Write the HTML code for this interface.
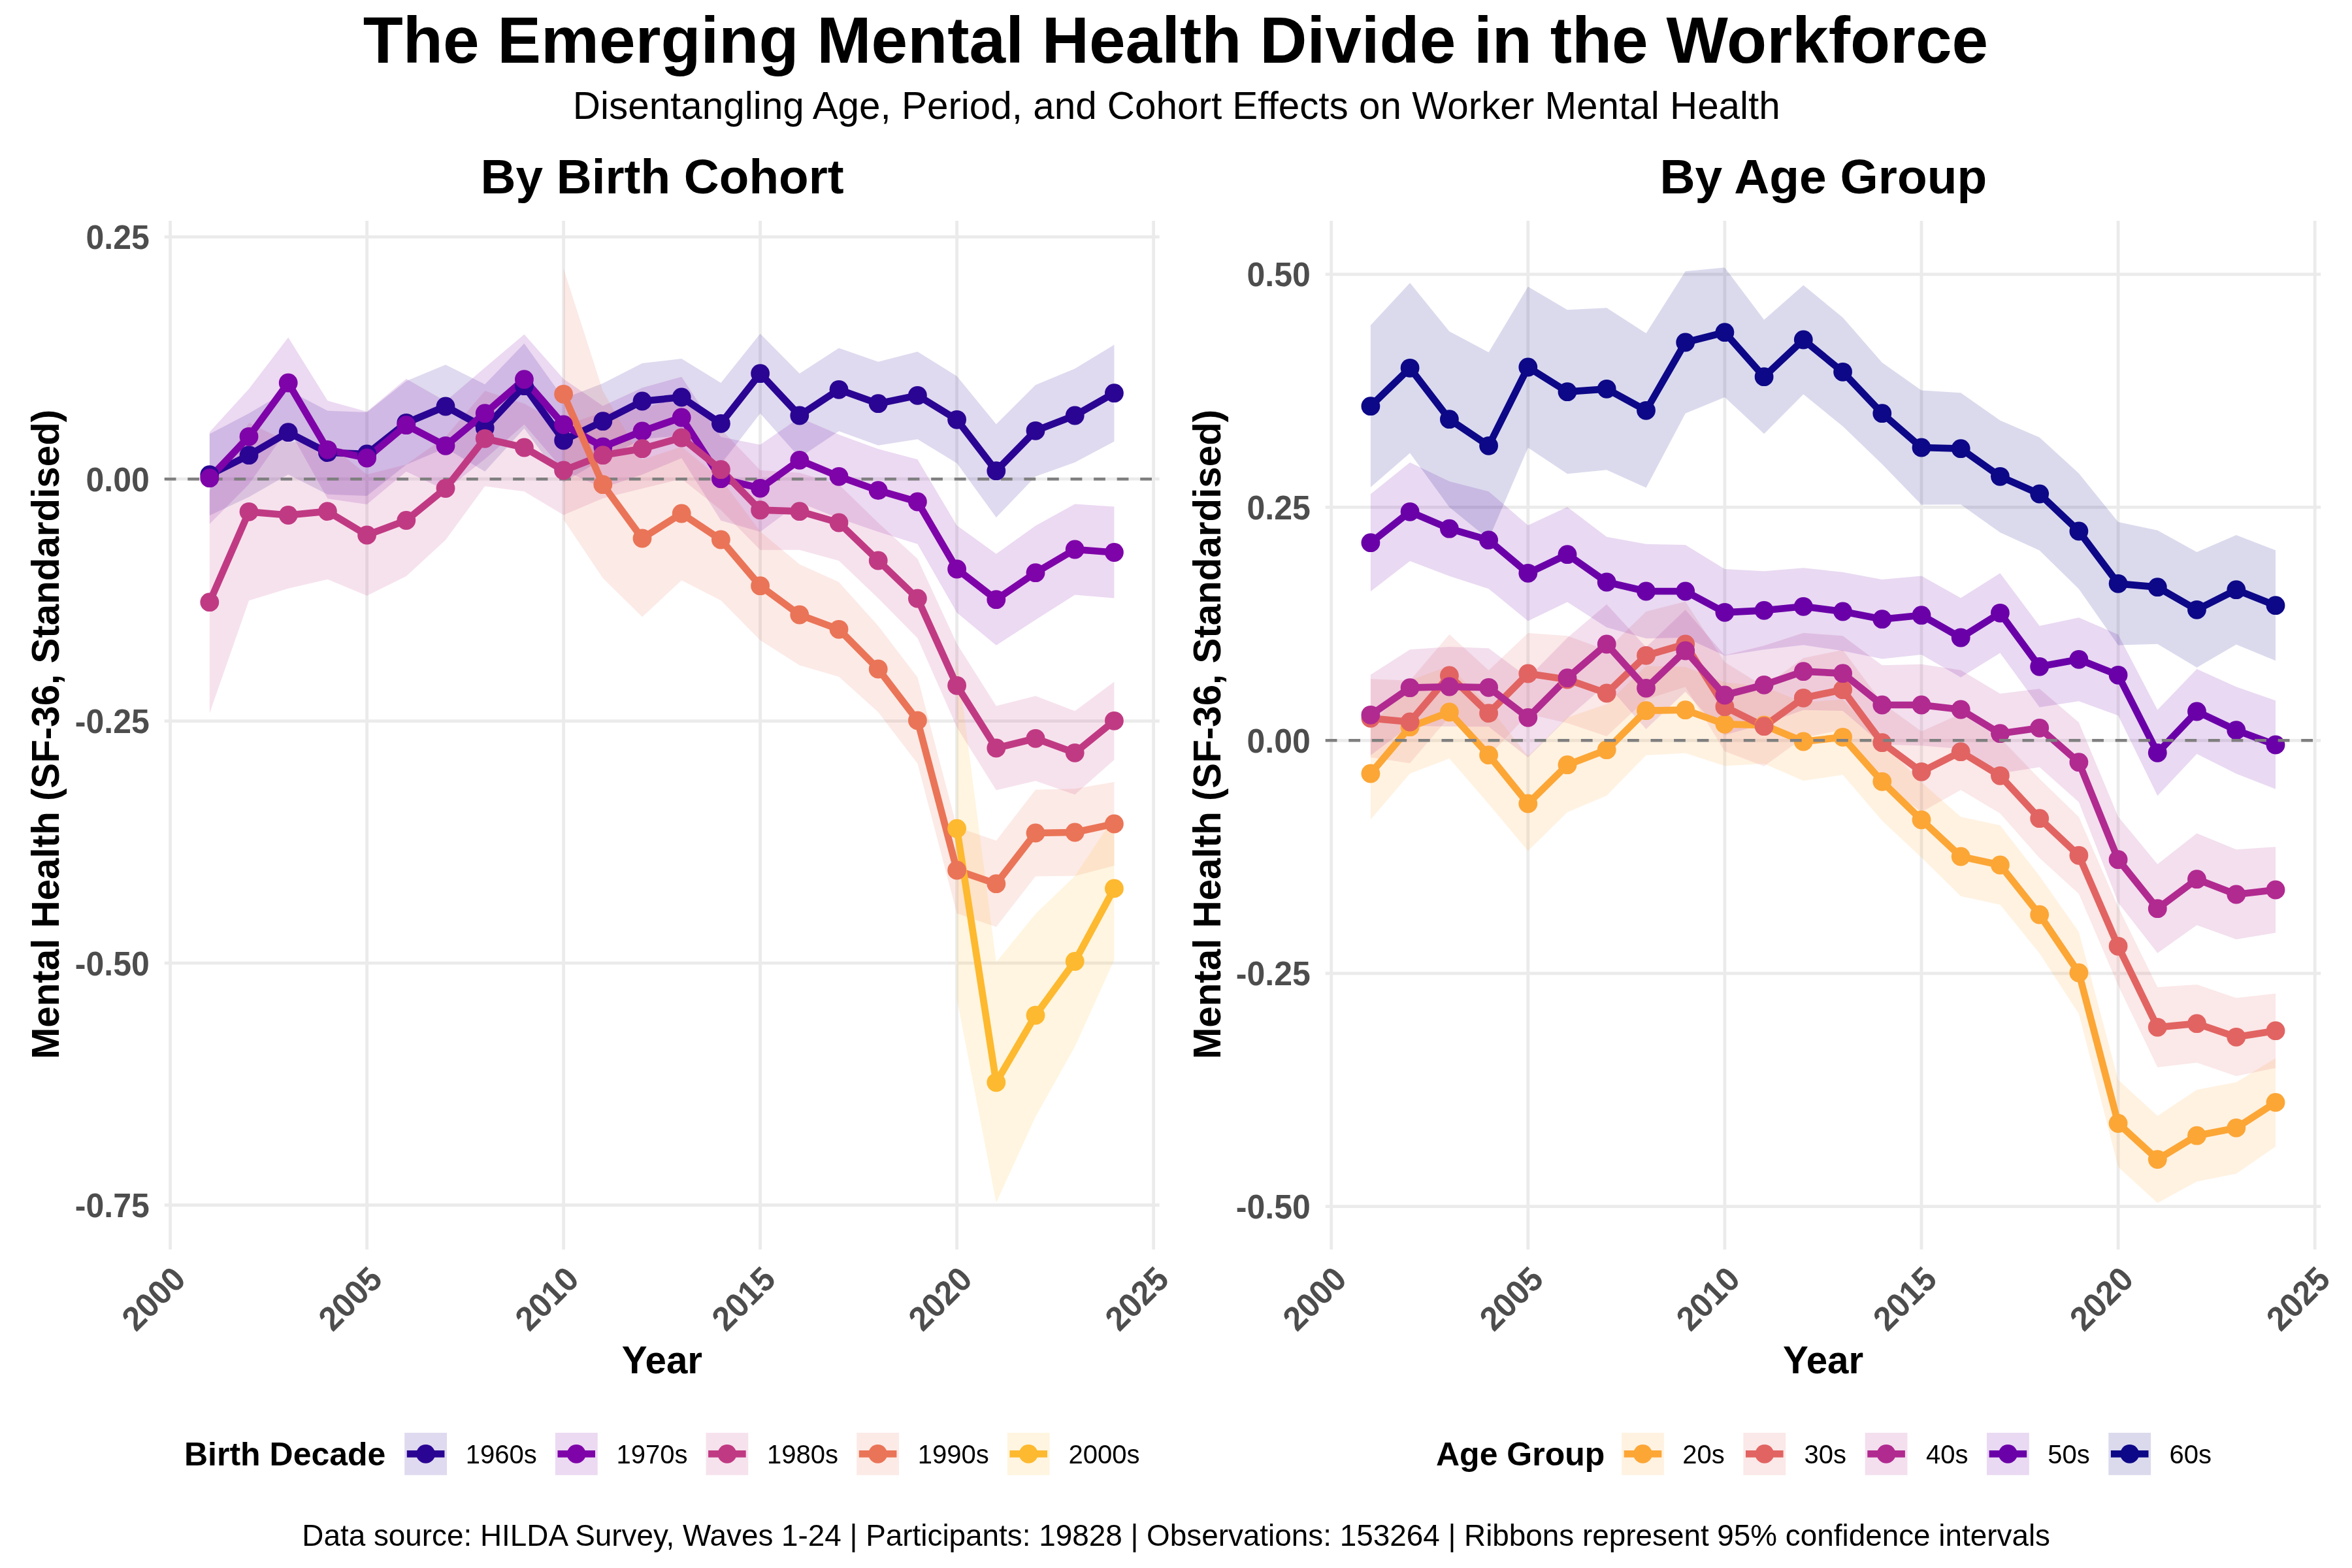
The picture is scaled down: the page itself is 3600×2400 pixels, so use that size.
<!DOCTYPE html>
<html lang="en"><head><meta charset="utf-8"><title>The Emerging Mental Health Divide in the Workforce</title>
<style>html,body{margin:0;padding:0;background:#fff}body{width:3600px;height:2400px;overflow:hidden}svg{display:block;will-change:transform}text{font-family:"Liberation Sans", sans-serif}</style></head><body>
<svg width="3600" height="2400" viewBox="0 0 3600 2400">
<rect width="3600" height="2400" fill="#FFFFFF"/>
<text x="1799.5" y="96" text-anchor="middle" font-size="100" font-weight="bold">The Emerging Mental Health Divide in the Workforce</text>
<text x="1800.8" y="182" text-anchor="middle" font-size="58.4">Disentangling Age, Period, and Cohort Effects on Worker Mental Health</text>
<text x="1013.6" y="295.6" text-anchor="middle" font-size="74.7" font-weight="bold">By Birth Cohort</text>
<text x="2790.8" y="295.6" text-anchor="middle" font-size="74.9" font-weight="bold">By Age Group</text>
<line x1="251.7" x2="1774.7" y1="362.7" y2="362.7" stroke="#EBEBEB" stroke-width="4.8"/>
<line x1="251.7" x2="1774.7" y1="733.2" y2="733.2" stroke="#EBEBEB" stroke-width="4.8"/>
<line x1="251.7" x2="1774.7" y1="1103.7" y2="1103.7" stroke="#EBEBEB" stroke-width="4.8"/>
<line x1="251.7" x2="1774.7" y1="1474.1" y2="1474.1" stroke="#EBEBEB" stroke-width="4.8"/>
<line x1="251.7" x2="1774.7" y1="1844.5" y2="1844.5" stroke="#EBEBEB" stroke-width="4.8"/>
<line x1="260.6" x2="260.6" y1="338" y2="1912.6" stroke="#EBEBEB" stroke-width="4.8"/>
<line x1="561.6" x2="561.6" y1="338" y2="1912.6" stroke="#EBEBEB" stroke-width="4.8"/>
<line x1="862.6" x2="862.6" y1="338" y2="1912.6" stroke="#EBEBEB" stroke-width="4.8"/>
<line x1="1163.6" x2="1163.6" y1="338" y2="1912.6" stroke="#EBEBEB" stroke-width="4.8"/>
<line x1="1464.6" x2="1464.6" y1="338" y2="1912.6" stroke="#EBEBEB" stroke-width="4.8"/>
<line x1="1765.6" x2="1765.6" y1="338" y2="1912.6" stroke="#EBEBEB" stroke-width="4.8"/>
<polygon points="320.8,664.3 381,632.7 441.2,597.2 501.4,628.7 561.6,631 621.8,583.3 682,558.3 742.2,588.3 802.4,525.7 862.6,610 922.8,586.7 983,556 1043.2,549 1103.4,586 1163.6,510.7 1223.8,571.7 1284,532.7 1344.2,553.7 1404.4,538.3 1464.6,575.7 1524.8,649.3 1585,589.3 1645.2,564.3 1705.4,527.7 1705.4,675.7 1645.2,707.7 1585,729.3 1524.8,792.1 1464.6,708.9 1404.4,672.3 1344.2,681.7 1284,659.9 1223.8,700.3 1163.6,632.7 1103.4,710.6 1043.2,667 983,672 922.8,702.7 862.6,738 802.4,655.7 742.2,721.7 682,685.7 621.8,711.3 561.6,759 501.4,756.7 441.2,726.2 381,760.7 320.8,789.1" fill="#2A0593" fill-opacity="0.15"/>
<polygon points="320.8,661.3 381,595.3 441.2,516.5 501.4,613.3 561.6,630 621.8,579.7 682,614.3 742.2,562.7 802.4,511.7 862.6,580 922.8,621.2 983,593.5 1043.2,576.7 1103.4,668.7 1163.6,680.7 1223.8,639.3 1284,665.3 1344.2,687.3 1404.4,703.3 1464.6,804.3 1524.8,847.7 1585,804.7 1645.2,771.5 1705.4,775.5 1705.4,915.5 1645.2,910.5 1585,948.7 1524.8,987.7 1464.6,937.7 1404.4,832.7 1344.2,814.1 1284,793.3 1223.8,769.3 1163.6,813.9 1103.4,796.7 1043.2,701.3 983,726.5 922.8,746.8 862.6,720 802.4,649.7 742.2,702.7 682,750.3 621.8,721.7 561.6,772 501.4,763.3 441.2,655.5 381,741.3 320.8,802.1" fill="#7E03A8" fill-opacity="0.15"/>
<polygon points="320.8,751.7 381,647.3 441.2,676.2 501.4,678.7 561.6,726.3 621.8,710.9 682,668.5 742.2,598.3 802.4,617.7 862.6,651.7 922.8,630.7 983,625.7 1043.2,607 1103.4,656.7 1163.6,719.7 1223.8,723.7 1284,741.7 1344.2,800.3 1404.4,855.3 1464.6,985.3 1524.8,1080.4 1585,1065.3 1645.2,1088.3 1705.4,1043.6 1705.4,1163 1645.2,1216.3 1585,1195.3 1524.8,1209.6 1464.6,1113.3 1404.4,976.7 1344.2,915.7 1284,858.3 1223.8,841.7 1163.6,841.7 1103.4,780.7 1043.2,733 983,747.7 922.8,762.7 862.6,788.3 802.4,752.3 742.2,744.3 682,826.5 621.8,882.1 561.6,911.7 501.4,886.7 441.2,900.8 381,919.3 320.8,1091.7" fill="#C03A83" fill-opacity="0.15"/>
<polygon points="862.6,411.3 922.8,598.4 983,703.7 1043.2,683.7 1103.4,733 1163.6,813.4 1223.8,863.7 1284,890.9 1344.2,958 1404.4,1036.8 1464.6,1266 1524.8,1286.7 1585,1208.7 1645.2,1207.3 1705.4,1197 1705.4,1325 1645.2,1340.7 1585,1341.3 1524.8,1418.7 1464.6,1398 1404.4,1168.8 1344.2,1090 1284,1035.7 1223.8,1018.3 1163.6,980 1103.4,919 1043.2,888.3 983,944.3 922.8,885 862.6,795.3" fill="#EA7457" fill-opacity="0.15"/>
<polygon points="1464.6,1008.2 1524.8,1472.8 1585,1398.7 1645.2,1341 1705.4,1250.3 1705.4,1469.5 1645.2,1602 1585,1709.3 1524.8,1840.8 1464.6,1528.2" fill="#FDB92F" fill-opacity="0.15"/>
<line x1="251.7" x2="1774.7" y1="733.2" y2="733.2" stroke="#7F7F7F" stroke-width="4.45" stroke-dasharray="17.78 17.78"/>
<polyline points="320.8,726.7 381,696.7 441.2,661.7 501.4,692.7 561.6,695 621.8,647.3 682,622 742.2,655 802.4,590.7 862.6,674 922.8,644.7 983,614 1043.2,608 1103.4,648.3 1163.6,571.7 1223.8,636 1284,596.3 1344.2,617.7 1404.4,605.3 1464.6,642.3 1524.8,720.7 1585,659.3 1645.2,636 1705.4,601.7" fill="none" stroke="#2A0593" stroke-width="10.7" stroke-linejoin="round" stroke-linecap="butt"/>
<polyline points="320.8,731.7 381,668.3 441.2,586 501.4,688.3 561.6,701 621.8,650.7 682,682.3 742.2,632.7 802.4,580.7 862.6,650 922.8,684 983,660 1043.2,639 1103.4,732.7 1163.6,747.3 1223.8,704.3 1284,729.3 1344.2,750.7 1404.4,768 1464.6,871 1524.8,917.7 1585,876.7 1645.2,841 1705.4,845.5" fill="none" stroke="#7E03A8" stroke-width="10.7" stroke-linejoin="round" stroke-linecap="butt"/>
<polyline points="320.8,921.7 381,783.3 441.2,788.5 501.4,782.7 561.6,819 621.8,796.5 682,747.5 742.2,671.3 802.4,685 862.6,720 922.8,696.7 983,686.7 1043.2,670 1103.4,718.7 1163.6,780.7 1223.8,782.7 1284,800 1344.2,858 1404.4,916 1464.6,1049.3 1524.8,1145 1585,1130.3 1645.2,1152.3 1705.4,1103.3" fill="none" stroke="#C03A83" stroke-width="10.7" stroke-linejoin="round" stroke-linecap="butt"/>
<polyline points="862.6,603.3 922.8,741.7 983,824 1043.2,786 1103.4,826 1163.6,896.7 1223.8,941 1284,963.3 1344.2,1024 1404.4,1102.8 1464.6,1332 1524.8,1352.7 1585,1275 1645.2,1274 1705.4,1261" fill="none" stroke="#EA7457" stroke-width="10.7" stroke-linejoin="round" stroke-linecap="butt"/>
<polyline points="1464.6,1268.2 1524.8,1656.8 1585,1554 1645.2,1471.5 1705.4,1359.9" fill="none" stroke="#FDB92F" stroke-width="10.7" stroke-linejoin="round" stroke-linecap="butt"/>
<g fill="#2A0593"><circle cx="320.8" cy="726.7" r="14.4"/><circle cx="381" cy="696.7" r="14.4"/><circle cx="441.2" cy="661.7" r="14.4"/><circle cx="501.4" cy="692.7" r="14.4"/><circle cx="561.6" cy="695" r="14.4"/><circle cx="621.8" cy="647.3" r="14.4"/><circle cx="682" cy="622" r="14.4"/><circle cx="742.2" cy="655" r="14.4"/><circle cx="802.4" cy="590.7" r="14.4"/><circle cx="862.6" cy="674" r="14.4"/><circle cx="922.8" cy="644.7" r="14.4"/><circle cx="983" cy="614" r="14.4"/><circle cx="1043.2" cy="608" r="14.4"/><circle cx="1103.4" cy="648.3" r="14.4"/><circle cx="1163.6" cy="571.7" r="14.4"/><circle cx="1223.8" cy="636" r="14.4"/><circle cx="1284" cy="596.3" r="14.4"/><circle cx="1344.2" cy="617.7" r="14.4"/><circle cx="1404.4" cy="605.3" r="14.4"/><circle cx="1464.6" cy="642.3" r="14.4"/><circle cx="1524.8" cy="720.7" r="14.4"/><circle cx="1585" cy="659.3" r="14.4"/><circle cx="1645.2" cy="636" r="14.4"/><circle cx="1705.4" cy="601.7" r="14.4"/></g>
<g fill="#7E03A8"><circle cx="320.8" cy="731.7" r="14.4"/><circle cx="381" cy="668.3" r="14.4"/><circle cx="441.2" cy="586" r="14.4"/><circle cx="501.4" cy="688.3" r="14.4"/><circle cx="561.6" cy="701" r="14.4"/><circle cx="621.8" cy="650.7" r="14.4"/><circle cx="682" cy="682.3" r="14.4"/><circle cx="742.2" cy="632.7" r="14.4"/><circle cx="802.4" cy="580.7" r="14.4"/><circle cx="862.6" cy="650" r="14.4"/><circle cx="922.8" cy="684" r="14.4"/><circle cx="983" cy="660" r="14.4"/><circle cx="1043.2" cy="639" r="14.4"/><circle cx="1103.4" cy="732.7" r="14.4"/><circle cx="1163.6" cy="747.3" r="14.4"/><circle cx="1223.8" cy="704.3" r="14.4"/><circle cx="1284" cy="729.3" r="14.4"/><circle cx="1344.2" cy="750.7" r="14.4"/><circle cx="1404.4" cy="768" r="14.4"/><circle cx="1464.6" cy="871" r="14.4"/><circle cx="1524.8" cy="917.7" r="14.4"/><circle cx="1585" cy="876.7" r="14.4"/><circle cx="1645.2" cy="841" r="14.4"/><circle cx="1705.4" cy="845.5" r="14.4"/></g>
<g fill="#C03A83"><circle cx="320.8" cy="921.7" r="14.4"/><circle cx="381" cy="783.3" r="14.4"/><circle cx="441.2" cy="788.5" r="14.4"/><circle cx="501.4" cy="782.7" r="14.4"/><circle cx="561.6" cy="819" r="14.4"/><circle cx="621.8" cy="796.5" r="14.4"/><circle cx="682" cy="747.5" r="14.4"/><circle cx="742.2" cy="671.3" r="14.4"/><circle cx="802.4" cy="685" r="14.4"/><circle cx="862.6" cy="720" r="14.4"/><circle cx="922.8" cy="696.7" r="14.4"/><circle cx="983" cy="686.7" r="14.4"/><circle cx="1043.2" cy="670" r="14.4"/><circle cx="1103.4" cy="718.7" r="14.4"/><circle cx="1163.6" cy="780.7" r="14.4"/><circle cx="1223.8" cy="782.7" r="14.4"/><circle cx="1284" cy="800" r="14.4"/><circle cx="1344.2" cy="858" r="14.4"/><circle cx="1404.4" cy="916" r="14.4"/><circle cx="1464.6" cy="1049.3" r="14.4"/><circle cx="1524.8" cy="1145" r="14.4"/><circle cx="1585" cy="1130.3" r="14.4"/><circle cx="1645.2" cy="1152.3" r="14.4"/><circle cx="1705.4" cy="1103.3" r="14.4"/></g>
<g fill="#EA7457"><circle cx="862.6" cy="603.3" r="14.4"/><circle cx="922.8" cy="741.7" r="14.4"/><circle cx="983" cy="824" r="14.4"/><circle cx="1043.2" cy="786" r="14.4"/><circle cx="1103.4" cy="826" r="14.4"/><circle cx="1163.6" cy="896.7" r="14.4"/><circle cx="1223.8" cy="941" r="14.4"/><circle cx="1284" cy="963.3" r="14.4"/><circle cx="1344.2" cy="1024" r="14.4"/><circle cx="1404.4" cy="1102.8" r="14.4"/><circle cx="1464.6" cy="1332" r="14.4"/><circle cx="1524.8" cy="1352.7" r="14.4"/><circle cx="1585" cy="1275" r="14.4"/><circle cx="1645.2" cy="1274" r="14.4"/><circle cx="1705.4" cy="1261" r="14.4"/></g>
<g fill="#FDB92F"><circle cx="1464.6" cy="1268.2" r="14.4"/><circle cx="1524.8" cy="1656.8" r="14.4"/><circle cx="1585" cy="1554" r="14.4"/><circle cx="1645.2" cy="1471.5" r="14.4"/><circle cx="1705.4" cy="1359.9" r="14.4"/></g>
<text transform="translate(228.8,381.1) scale(1,1.04)" text-anchor="end" font-size="50" font-weight="bold" fill="#4D4D4D">0.25</text>
<text transform="translate(228.8,751.6) scale(1,1.04)" text-anchor="end" font-size="50" font-weight="bold" fill="#4D4D4D">0.00</text>
<text transform="translate(228.8,1122.1) scale(1,1.04)" text-anchor="end" font-size="50" font-weight="bold" fill="#4D4D4D">-0.25</text>
<text transform="translate(228.8,1492.5) scale(1,1.04)" text-anchor="end" font-size="50" font-weight="bold" fill="#4D4D4D">-0.50</text>
<text transform="translate(228.8,1862.9) scale(1,1.04)" text-anchor="end" font-size="50" font-weight="bold" fill="#4D4D4D">-0.75</text>
<text transform="translate(286.9,1961.2) rotate(-45) scale(1,1.04)" text-anchor="end" font-size="50" font-weight="bold" fill="#4D4D4D">2000</text>
<text transform="translate(587.9,1961.2) rotate(-45) scale(1,1.04)" text-anchor="end" font-size="50" font-weight="bold" fill="#4D4D4D">2005</text>
<text transform="translate(888.9,1961.2) rotate(-45) scale(1,1.04)" text-anchor="end" font-size="50" font-weight="bold" fill="#4D4D4D">2010</text>
<text transform="translate(1189.9,1961.2) rotate(-45) scale(1,1.04)" text-anchor="end" font-size="50" font-weight="bold" fill="#4D4D4D">2015</text>
<text transform="translate(1490.9,1961.2) rotate(-45) scale(1,1.04)" text-anchor="end" font-size="50" font-weight="bold" fill="#4D4D4D">2020</text>
<text transform="translate(1791.9,1961.2) rotate(-45) scale(1,1.04)" text-anchor="end" font-size="50" font-weight="bold" fill="#4D4D4D">2025</text>
<text x="1013.4" y="2101.8" text-anchor="middle" font-size="58.3" font-weight="bold">Year</text>
<text transform="translate(89.7,1124) rotate(-90)" text-anchor="middle" font-size="58.3" font-weight="bold">Mental Health (SF-36, Standardised)</text>
<line x1="2028.7" x2="3552.2" y1="419.8" y2="419.8" stroke="#EBEBEB" stroke-width="4.8"/>
<line x1="2028.7" x2="3552.2" y1="776.4" y2="776.4" stroke="#EBEBEB" stroke-width="4.8"/>
<line x1="2028.7" x2="3552.2" y1="1133.3" y2="1133.3" stroke="#EBEBEB" stroke-width="4.8"/>
<line x1="2028.7" x2="3552.2" y1="1489.9" y2="1489.9" stroke="#EBEBEB" stroke-width="4.8"/>
<line x1="2028.7" x2="3552.2" y1="1846.6" y2="1846.6" stroke="#EBEBEB" stroke-width="4.8"/>
<line x1="2037.7" x2="2037.7" y1="338" y2="1912.6" stroke="#EBEBEB" stroke-width="4.8"/>
<line x1="2338.8" x2="2338.8" y1="338" y2="1912.6" stroke="#EBEBEB" stroke-width="4.8"/>
<line x1="2639.9" x2="2639.9" y1="338" y2="1912.6" stroke="#EBEBEB" stroke-width="4.8"/>
<line x1="2941" x2="2941" y1="338" y2="1912.6" stroke="#EBEBEB" stroke-width="4.8"/>
<line x1="3242.1" x2="3242.1" y1="338" y2="1912.6" stroke="#EBEBEB" stroke-width="4.8"/>
<line x1="3543.2" x2="3543.2" y1="338" y2="1912.6" stroke="#EBEBEB" stroke-width="4.8"/>
<polygon points="2097.9,1113.7 2158.1,1041.4 2218.4,1019 2278.6,1080.7 2338.8,1157.5 2399,1098.2 2459.2,1077.7 2519.5,1019.4 2579.7,1020.7 2639.9,1044.3 2700.1,1051 2760.3,1075 2820.6,1070.6 2880.8,1136.3 2941,1197.2 3001.2,1250.3 3061.4,1263.2 3121.7,1340.8 3181.9,1426.2 3242.1,1652.7 3302.3,1707.9 3362.5,1667.9 3422.8,1656.4 3483,1619.7 3483,1755.1 3422.8,1796.4 3362.5,1808.5 3302.3,1841.3 3242.1,1786.3 3181.9,1551.8 3121.7,1459.2 3061.4,1384.8 3001.2,1371.7 2941,1312.4 2880.8,1256.3 2820.6,1186 2760.3,1195 2700.1,1169 2639.9,1172.3 2579.7,1152.7 2519.5,1156 2459.2,1217.7 2399,1243.2 2338.8,1302.5 2278.6,1230.7 2218.4,1161 2158.1,1184 2097.9,1254.3" fill="#FCA636" fill-opacity="0.15"/>
<polygon points="2097.9,1039.3 2158.1,1041.7 2218.4,971 2278.6,1026 2338.8,969 2399,973.3 2459.2,995 2519.5,936 2579.7,920.7 2639.9,1013.4 2700.1,1050.7 2760.3,1007.3 2820.6,994.7 2880.8,1075.7 2941,1119.6 3001.2,1092.5 3061.4,1129.6 3121.7,1192.1 3181.9,1250.5 3242.1,1388.3 3302.3,1511.1 3362.5,1507 3422.8,1527.6 3483,1520.7 3483,1634.7 3422.8,1647 3362.5,1626.4 3302.3,1633.5 3242.1,1508.3 3181.9,1368.1 3121.7,1313.3 3061.4,1245 3001.2,1208.9 2941,1243 2880.8,1197.7 2820.6,1116.7 2760.3,1129.3 2700.1,1172.7 2639.9,1150 2579.7,1051.3 2519.5,1070.6 2459.2,1127 2399,1106.7 2338.8,1093 2278.6,1157.4 2218.4,1097 2158.1,1168.3 2097.9,1159.3" fill="#E16462" fill-opacity="0.15"/>
<polygon points="2097.9,1032.7 2158.1,994.3 2218.4,990 2278.6,992.3 2338.8,1037.3 2399,976.2 2459.2,925 2519.5,990.6 2579.7,933.3 2639.9,1003 2700.1,988.3 2760.3,968.7 2820.6,973.3 2880.8,1018.3 2941,1016.7 3001.2,1025.7 3061.4,1061.7 3121.7,1054.3 3181.9,1105.7 3242.1,1249.9 3302.3,1322.7 3362.5,1275.5 3422.8,1300.2 3483,1296.3 3483,1427.7 3422.8,1437.8 3362.5,1415.9 3302.3,1458.7 3242.1,1381.5 3181.9,1227.7 3121.7,1174.3 3061.4,1183.7 3001.2,1146.3 2941,1141.3 2880.8,1139.7 2820.6,1088.1 2760.3,1086.7 2700.1,1108.3 2639.9,1125 2579.7,1058.7 2519.5,1116 2459.2,1047 2399,1099.2 2338.8,1159.3 2278.6,1112.3 2218.4,1112 2158.1,1111.1 2097.9,1155.9" fill="#B12A90" fill-opacity="0.15"/>
<polygon points="2097.9,756.2 2158.1,707.8 2218.4,736.7 2278.6,752.2 2338.8,804 2399,775.9 2459.2,821.8 2519.5,832.7 2579.7,834 2639.9,871 2700.1,874.3 2760.3,869.3 2820.6,875.7 2880.8,886.9 2941,881.4 3001.2,915.3 3061.4,877.2 3121.7,958 3181.9,945.3 3242.1,971.3 3302.3,1086.5 3362.5,1024 3422.8,1051.2 3483,1072.3 3483,1207.7 3422.8,1184.2 3362.5,1154 3302.3,1218.1 3242.1,1095.3 3181.9,1073.3 3121.7,1082.6 3061.4,999.4 3001.2,1036.7 2941,1002 2880.8,1008.5 2820.6,996.3 2760.3,987.3 2700.1,994.3 2639.9,1003.6 2579.7,976 2519.5,977.3 2459.2,960.2 2399,921.5 2338.8,950.6 2278.6,901.2 2218.4,881.7 2158.1,858.8 2097.9,905.2" fill="#6A00A8" fill-opacity="0.15"/>
<polygon points="2097.9,497.7 2158.1,433 2218.4,507.2 2278.6,539.3 2338.8,438.8 2399,474.2 2459.2,471.3 2519.5,510.1 2579.7,415.2 2639.9,409.4 2700.1,489.5 2760.3,436.5 2820.6,486 2880.8,554.9 2941,597.4 3001.2,601.2 3061.4,643.5 3121.7,669.4 3181.9,724.5 3242.1,799.1 3302.3,811.7 3362.5,844.9 3422.8,818.9 3483,842.2 3483,1011.2 3422.8,986.5 3362.5,1021.7 3302.3,985.7 3242.1,987.5 3181.9,901.5 3121.7,842.6 3061.4,815.1 3001.2,772.2 2941,772.6 2880.8,710.5 2820.6,652.6 2760.3,603.5 2700.1,663.9 2639.9,608 2579.7,632.8 2519.5,746.5 2459.2,719.3 2399,725.2 2338.8,685.2 2278.6,825.3 2218.4,776.2 2158.1,693.6 2097.9,745.7" fill="#0D0887" fill-opacity="0.15"/>
<polyline points="2097.9,1184 2158.1,1112.7 2218.4,1090 2278.6,1155.7 2338.8,1230 2399,1170.7 2459.2,1147.7 2519.5,1087.7 2579.7,1086.7 2639.9,1108.3 2700.1,1110 2760.3,1135 2820.6,1128.3 2880.8,1196.3 2941,1254.8 3001.2,1311 3061.4,1324 3121.7,1400 3181.9,1489 3242.1,1719.5 3302.3,1774.6 3362.5,1738.2 3422.8,1726.4 3483,1687.4" fill="none" stroke="#FCA636" stroke-width="10.7" stroke-linejoin="round" stroke-linecap="butt"/>
<polyline points="2097.9,1099.3 2158.1,1105 2218.4,1034 2278.6,1091.7 2338.8,1031 2399,1040 2459.2,1061 2519.5,1003.3 2579.7,986 2639.9,1081.7 2700.1,1111.7 2760.3,1068.3 2820.6,1055.7 2880.8,1136.7 2941,1181.3 3001.2,1150.7 3061.4,1187.3 3121.7,1252.7 3181.9,1309.3 3242.1,1448.3 3302.3,1572.3 3362.5,1566.7 3422.8,1587.3 3483,1577.7" fill="none" stroke="#E16462" stroke-width="10.7" stroke-linejoin="round" stroke-linecap="butt"/>
<polyline points="2097.9,1094.3 2158.1,1052.7 2218.4,1051 2278.6,1052.3 2338.8,1098.3 2399,1037.7 2459.2,986 2519.5,1053.3 2579.7,996 2639.9,1064 2700.1,1048.3 2760.3,1027.7 2820.6,1030.7 2880.8,1079 2941,1079 3001.2,1086 3061.4,1122.7 3121.7,1114.3 3181.9,1166.7 3242.1,1315.7 3302.3,1390.7 3362.5,1345.7 3422.8,1369 3483,1362" fill="none" stroke="#B12A90" stroke-width="10.7" stroke-linejoin="round" stroke-linecap="butt"/>
<polyline points="2097.9,830.7 2158.1,783.3 2218.4,809.2 2278.6,826.7 2338.8,877.3 2399,848.7 2459.2,891 2519.5,905 2579.7,905 2639.9,937.3 2700.1,934.3 2760.3,928.3 2820.6,936 2880.8,947.7 2941,941.7 3001.2,976 3061.4,938.3 3121.7,1020.3 3181.9,1009.3 3242.1,1033.3 3302.3,1152.3 3362.5,1089 3422.8,1117.7 3483,1140" fill="none" stroke="#6A00A8" stroke-width="10.7" stroke-linejoin="round" stroke-linecap="butt"/>
<polyline points="2097.9,621.7 2158.1,563.3 2218.4,641.7 2278.6,682.3 2338.8,562 2399,599.7 2459.2,595.3 2519.5,628.3 2579.7,524 2639.9,508.7 2700.1,576.7 2760.3,520 2820.6,569.3 2880.8,632.7 2941,685 3001.2,686.7 3061.4,729.3 3121.7,756 3181.9,813 3242.1,893.3 3302.3,898.7 3362.5,933.3 3422.8,902.7 3483,926.7" fill="none" stroke="#0D0887" stroke-width="10.7" stroke-linejoin="round" stroke-linecap="butt"/>
<g fill="#FCA636"><circle cx="2097.9" cy="1184" r="14.4"/><circle cx="2158.1" cy="1112.7" r="14.4"/><circle cx="2218.4" cy="1090" r="14.4"/><circle cx="2278.6" cy="1155.7" r="14.4"/><circle cx="2338.8" cy="1230" r="14.4"/><circle cx="2399" cy="1170.7" r="14.4"/><circle cx="2459.2" cy="1147.7" r="14.4"/><circle cx="2519.5" cy="1087.7" r="14.4"/><circle cx="2579.7" cy="1086.7" r="14.4"/><circle cx="2639.9" cy="1108.3" r="14.4"/><circle cx="2700.1" cy="1110" r="14.4"/><circle cx="2760.3" cy="1135" r="14.4"/><circle cx="2820.6" cy="1128.3" r="14.4"/><circle cx="2880.8" cy="1196.3" r="14.4"/><circle cx="2941" cy="1254.8" r="14.4"/><circle cx="3001.2" cy="1311" r="14.4"/><circle cx="3061.4" cy="1324" r="14.4"/><circle cx="3121.7" cy="1400" r="14.4"/><circle cx="3181.9" cy="1489" r="14.4"/><circle cx="3242.1" cy="1719.5" r="14.4"/><circle cx="3302.3" cy="1774.6" r="14.4"/><circle cx="3362.5" cy="1738.2" r="14.4"/><circle cx="3422.8" cy="1726.4" r="14.4"/><circle cx="3483" cy="1687.4" r="14.4"/></g>
<g fill="#E16462"><circle cx="2097.9" cy="1099.3" r="14.4"/><circle cx="2158.1" cy="1105" r="14.4"/><circle cx="2218.4" cy="1034" r="14.4"/><circle cx="2278.6" cy="1091.7" r="14.4"/><circle cx="2338.8" cy="1031" r="14.4"/><circle cx="2399" cy="1040" r="14.4"/><circle cx="2459.2" cy="1061" r="14.4"/><circle cx="2519.5" cy="1003.3" r="14.4"/><circle cx="2579.7" cy="986" r="14.4"/><circle cx="2639.9" cy="1081.7" r="14.4"/><circle cx="2700.1" cy="1111.7" r="14.4"/><circle cx="2760.3" cy="1068.3" r="14.4"/><circle cx="2820.6" cy="1055.7" r="14.4"/><circle cx="2880.8" cy="1136.7" r="14.4"/><circle cx="2941" cy="1181.3" r="14.4"/><circle cx="3001.2" cy="1150.7" r="14.4"/><circle cx="3061.4" cy="1187.3" r="14.4"/><circle cx="3121.7" cy="1252.7" r="14.4"/><circle cx="3181.9" cy="1309.3" r="14.4"/><circle cx="3242.1" cy="1448.3" r="14.4"/><circle cx="3302.3" cy="1572.3" r="14.4"/><circle cx="3362.5" cy="1566.7" r="14.4"/><circle cx="3422.8" cy="1587.3" r="14.4"/><circle cx="3483" cy="1577.7" r="14.4"/></g>
<g fill="#B12A90"><circle cx="2097.9" cy="1094.3" r="14.4"/><circle cx="2158.1" cy="1052.7" r="14.4"/><circle cx="2218.4" cy="1051" r="14.4"/><circle cx="2278.6" cy="1052.3" r="14.4"/><circle cx="2338.8" cy="1098.3" r="14.4"/><circle cx="2399" cy="1037.7" r="14.4"/><circle cx="2459.2" cy="986" r="14.4"/><circle cx="2519.5" cy="1053.3" r="14.4"/><circle cx="2579.7" cy="996" r="14.4"/><circle cx="2639.9" cy="1064" r="14.4"/><circle cx="2700.1" cy="1048.3" r="14.4"/><circle cx="2760.3" cy="1027.7" r="14.4"/><circle cx="2820.6" cy="1030.7" r="14.4"/><circle cx="2880.8" cy="1079" r="14.4"/><circle cx="2941" cy="1079" r="14.4"/><circle cx="3001.2" cy="1086" r="14.4"/><circle cx="3061.4" cy="1122.7" r="14.4"/><circle cx="3121.7" cy="1114.3" r="14.4"/><circle cx="3181.9" cy="1166.7" r="14.4"/><circle cx="3242.1" cy="1315.7" r="14.4"/><circle cx="3302.3" cy="1390.7" r="14.4"/><circle cx="3362.5" cy="1345.7" r="14.4"/><circle cx="3422.8" cy="1369" r="14.4"/><circle cx="3483" cy="1362" r="14.4"/></g>
<g fill="#6A00A8"><circle cx="2097.9" cy="830.7" r="14.4"/><circle cx="2158.1" cy="783.3" r="14.4"/><circle cx="2218.4" cy="809.2" r="14.4"/><circle cx="2278.6" cy="826.7" r="14.4"/><circle cx="2338.8" cy="877.3" r="14.4"/><circle cx="2399" cy="848.7" r="14.4"/><circle cx="2459.2" cy="891" r="14.4"/><circle cx="2519.5" cy="905" r="14.4"/><circle cx="2579.7" cy="905" r="14.4"/><circle cx="2639.9" cy="937.3" r="14.4"/><circle cx="2700.1" cy="934.3" r="14.4"/><circle cx="2760.3" cy="928.3" r="14.4"/><circle cx="2820.6" cy="936" r="14.4"/><circle cx="2880.8" cy="947.7" r="14.4"/><circle cx="2941" cy="941.7" r="14.4"/><circle cx="3001.2" cy="976" r="14.4"/><circle cx="3061.4" cy="938.3" r="14.4"/><circle cx="3121.7" cy="1020.3" r="14.4"/><circle cx="3181.9" cy="1009.3" r="14.4"/><circle cx="3242.1" cy="1033.3" r="14.4"/><circle cx="3302.3" cy="1152.3" r="14.4"/><circle cx="3362.5" cy="1089" r="14.4"/><circle cx="3422.8" cy="1117.7" r="14.4"/><circle cx="3483" cy="1140" r="14.4"/></g>
<g fill="#0D0887"><circle cx="2097.9" cy="621.7" r="14.4"/><circle cx="2158.1" cy="563.3" r="14.4"/><circle cx="2218.4" cy="641.7" r="14.4"/><circle cx="2278.6" cy="682.3" r="14.4"/><circle cx="2338.8" cy="562" r="14.4"/><circle cx="2399" cy="599.7" r="14.4"/><circle cx="2459.2" cy="595.3" r="14.4"/><circle cx="2519.5" cy="628.3" r="14.4"/><circle cx="2579.7" cy="524" r="14.4"/><circle cx="2639.9" cy="508.7" r="14.4"/><circle cx="2700.1" cy="576.7" r="14.4"/><circle cx="2760.3" cy="520" r="14.4"/><circle cx="2820.6" cy="569.3" r="14.4"/><circle cx="2880.8" cy="632.7" r="14.4"/><circle cx="2941" cy="685" r="14.4"/><circle cx="3001.2" cy="686.7" r="14.4"/><circle cx="3061.4" cy="729.3" r="14.4"/><circle cx="3121.7" cy="756" r="14.4"/><circle cx="3181.9" cy="813" r="14.4"/><circle cx="3242.1" cy="893.3" r="14.4"/><circle cx="3302.3" cy="898.7" r="14.4"/><circle cx="3362.5" cy="933.3" r="14.4"/><circle cx="3422.8" cy="902.7" r="14.4"/><circle cx="3483" cy="926.7" r="14.4"/></g>
<line x1="2028.7" x2="3552.2" y1="1133.3" y2="1133.3" stroke="#7F7F7F" stroke-width="4.45" stroke-dasharray="17.78 17.78"/>
<text transform="translate(2005.8,438.2) scale(1,1.04)" text-anchor="end" font-size="50" font-weight="bold" fill="#4D4D4D">0.50</text>
<text transform="translate(2005.8,794.8) scale(1,1.04)" text-anchor="end" font-size="50" font-weight="bold" fill="#4D4D4D">0.25</text>
<text transform="translate(2005.8,1151.7) scale(1,1.04)" text-anchor="end" font-size="50" font-weight="bold" fill="#4D4D4D">0.00</text>
<text transform="translate(2005.8,1508.3) scale(1,1.04)" text-anchor="end" font-size="50" font-weight="bold" fill="#4D4D4D">-0.25</text>
<text transform="translate(2005.8,1865) scale(1,1.04)" text-anchor="end" font-size="50" font-weight="bold" fill="#4D4D4D">-0.50</text>
<text transform="translate(2064,1961.2) rotate(-45) scale(1,1.04)" text-anchor="end" font-size="50" font-weight="bold" fill="#4D4D4D">2000</text>
<text transform="translate(2365.1,1961.2) rotate(-45) scale(1,1.04)" text-anchor="end" font-size="50" font-weight="bold" fill="#4D4D4D">2005</text>
<text transform="translate(2666.2,1961.2) rotate(-45) scale(1,1.04)" text-anchor="end" font-size="50" font-weight="bold" fill="#4D4D4D">2010</text>
<text transform="translate(2967.3,1961.2) rotate(-45) scale(1,1.04)" text-anchor="end" font-size="50" font-weight="bold" fill="#4D4D4D">2015</text>
<text transform="translate(3268.4,1961.2) rotate(-45) scale(1,1.04)" text-anchor="end" font-size="50" font-weight="bold" fill="#4D4D4D">2020</text>
<text transform="translate(3569.5,1961.2) rotate(-45) scale(1,1.04)" text-anchor="end" font-size="50" font-weight="bold" fill="#4D4D4D">2025</text>
<text x="2790.6" y="2101.8" text-anchor="middle" font-size="58.3" font-weight="bold">Year</text>
<text transform="translate(1868.3,1124) rotate(-90)" text-anchor="middle" font-size="58.3" font-weight="bold">Mental Health (SF-36, Standardised)</text>
<text x="282" y="2243.3" font-size="50" font-weight="bold">Birth Decade</text>
<rect x="619.2" y="2193" width="64.8" height="64.8" fill="#2A0593" fill-opacity="0.15"/>
<line x1="622.8" x2="680.4" y1="2225.4" y2="2225.4" stroke="#2A0593" stroke-width="10.7"/>
<circle cx="651.6" cy="2225.4" r="14.4" fill="#2A0593"/>
<text x="712.8" y="2240" font-size="40">1960s</text>
<rect x="849.9" y="2193" width="64.8" height="64.8" fill="#7E03A8" fill-opacity="0.15"/>
<line x1="853.5" x2="911" y1="2225.4" y2="2225.4" stroke="#7E03A8" stroke-width="10.7"/>
<circle cx="882.2" cy="2225.4" r="14.4" fill="#7E03A8"/>
<text x="943.5" y="2240" font-size="40">1970s</text>
<rect x="1080.5" y="2193" width="64.8" height="64.8" fill="#C03A83" fill-opacity="0.15"/>
<line x1="1084.1" x2="1141.7" y1="2225.4" y2="2225.4" stroke="#C03A83" stroke-width="10.7"/>
<circle cx="1112.9" cy="2225.4" r="14.4" fill="#C03A83"/>
<text x="1174.1" y="2240" font-size="40">1980s</text>
<rect x="1311.2" y="2193" width="64.8" height="64.8" fill="#EA7457" fill-opacity="0.15"/>
<line x1="1314.8" x2="1372.4" y1="2225.4" y2="2225.4" stroke="#EA7457" stroke-width="10.7"/>
<circle cx="1343.6" cy="2225.4" r="14.4" fill="#EA7457"/>
<text x="1404.8" y="2240" font-size="40">1990s</text>
<rect x="1541.8" y="2193" width="64.8" height="64.8" fill="#FDB92F" fill-opacity="0.15"/>
<line x1="1545.4" x2="1603" y1="2225.4" y2="2225.4" stroke="#FDB92F" stroke-width="10.7"/>
<circle cx="1574.2" cy="2225.4" r="14.4" fill="#FDB92F"/>
<text x="1635.4" y="2240" font-size="40">2000s</text>
<text x="2198" y="2243.3" font-size="50" font-weight="bold">Age Group</text>
<rect x="2482.1" y="2193" width="64.8" height="64.8" fill="#FCA636" fill-opacity="0.15"/>
<line x1="2485.7" x2="2543.3" y1="2225.4" y2="2225.4" stroke="#FCA636" stroke-width="10.7"/>
<circle cx="2514.5" cy="2225.4" r="14.4" fill="#FCA636"/>
<text x="2575.3" y="2240" font-size="40">20s</text>
<rect x="2668.4" y="2193" width="64.8" height="64.8" fill="#E16462" fill-opacity="0.15"/>
<line x1="2672" x2="2729.6" y1="2225.4" y2="2225.4" stroke="#E16462" stroke-width="10.7"/>
<circle cx="2700.8" cy="2225.4" r="14.4" fill="#E16462"/>
<text x="2761.6" y="2240" font-size="40">30s</text>
<rect x="2854.7" y="2193" width="64.8" height="64.8" fill="#B12A90" fill-opacity="0.15"/>
<line x1="2858.3" x2="2915.9" y1="2225.4" y2="2225.4" stroke="#B12A90" stroke-width="10.7"/>
<circle cx="2887.1" cy="2225.4" r="14.4" fill="#B12A90"/>
<text x="2947.9" y="2240" font-size="40">40s</text>
<rect x="3041" y="2193" width="64.8" height="64.8" fill="#6A00A8" fill-opacity="0.15"/>
<line x1="3044.6" x2="3102.2" y1="2225.4" y2="2225.4" stroke="#6A00A8" stroke-width="10.7"/>
<circle cx="3073.4" cy="2225.4" r="14.4" fill="#6A00A8"/>
<text x="3134.2" y="2240" font-size="40">50s</text>
<rect x="3227.3" y="2193" width="64.8" height="64.8" fill="#0D0887" fill-opacity="0.15"/>
<line x1="3230.9" x2="3288.5" y1="2225.4" y2="2225.4" stroke="#0D0887" stroke-width="10.7"/>
<circle cx="3259.7" cy="2225.4" r="14.4" fill="#0D0887"/>
<text x="3320.5" y="2240" font-size="40">60s</text>
<text x="1800.2" y="2366.3" text-anchor="middle" font-size="45.85">Data source: HILDA Survey, Waves 1-24 | Participants: 19828 | Observations: 153264 | Ribbons represent 95% confidence intervals</text>
</svg></body></html>
